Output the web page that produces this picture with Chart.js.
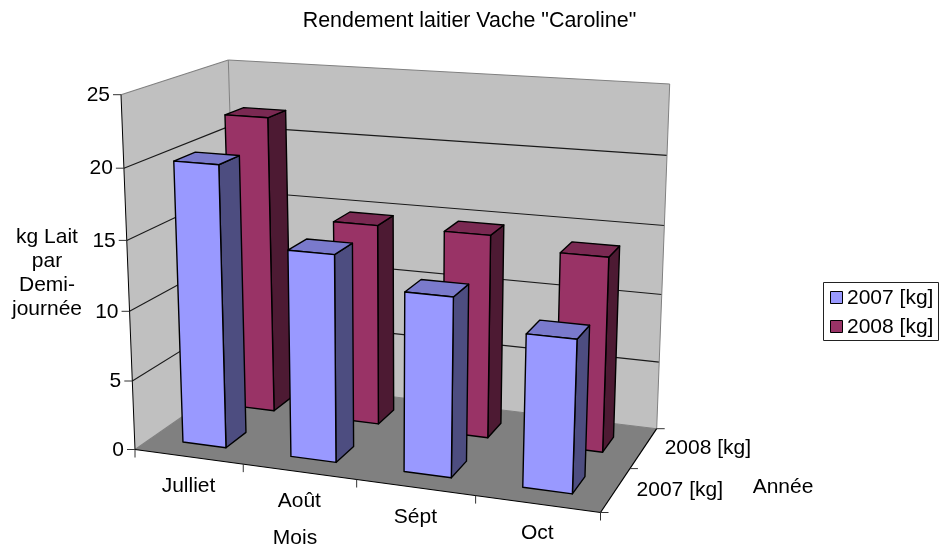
<!DOCTYPE html>
<html><head><meta charset="utf-8">
<style>html,body{margin:0;padding:0;background:#fff}canvas{display:block}</style>
<script src="https://cdn.jsdelivr.net/npm/chart.js@4/dist/chart.umd.min.js"></script>
</head><body><canvas id="c" width="939" height="549"></canvas>
<script>
const categories = ['Julliet','Août','Sépt','Oct'];
const series2007 = [20.2, 14.7, 12.6, 10.6];
const series2008 = [22.0, 14.8, 14.8, 14.0];
const seriesNames = ['2007 [kg]','2008 [kg]'];
const yTicks = [0,5,10,15,20,25];
const chartTitle = 'Rendement laitier Vache "Caroline"';
const yAxisTitle = ['kg Lait','par','Demi-','journée'];
const xAxisTitle = 'Mois';
const zAxisTitle = 'Année';
const FONT = '21px "Liberation Sans", Arial, sans-serif';

/* 3D box corners on screen: F=front, B=back, L/R, floor/top */
const box = {
  FL:[135,449.5], FR:[600.5,512.5], BL:[238,378], BR:[656.7,428.7],
  tFL:[121,94.7], tFR:[614,130], tBL:[228.3,60], tBR:[669.7,84]
};
const depthBands = [[0.15,0.35],[0.645,0.835]];
const faceShades = [
  {side:'#4D4D80', top:'#7A7ACC'},
  {side:'#4D1A33', top:'#7A2952'}
];
function project(s,d,t){
  const S = s/(1.1-0.1*s), D = d*1.1/(1+0.1*d), T = t/(1+0.045*(1-t));
  const mix=(a,b,k)=>[a[0]+(b[0]-a[0])*k,a[1]+(b[1]-a[1])*k];
  const floor = mix(mix(box.FL,box.FR,S),mix(box.BL,box.BR,S),D);
  const top = mix(mix(box.tFL,box.tFR,S),mix(box.tBL,box.tBR,S),D);
  return mix(floor,top,T);
}
function poly(ctx,pts,fill,stroke,lw){
  ctx.beginPath();
  pts.forEach((p,i)=>i?ctx.lineTo(p[0],p[1]):ctx.moveTo(p[0],p[1]));
  ctx.closePath();
  if(fill){ctx.fillStyle=fill;ctx.fill();}
  if(stroke){ctx.strokeStyle=stroke;ctx.lineWidth=lw||1;ctx.lineJoin='round';ctx.stroke();}
}
function seg(ctx,a,b,color,lw){
  ctx.beginPath();ctx.moveTo(a[0],a[1]);ctx.lineTo(b[0],b[1]);
  ctx.strokeStyle=color;ctx.lineWidth=lw||1;ctx.stroke();
}
function label(ctx,txt,x,y,align){
  ctx.font=FONT;ctx.fillStyle='#000';ctx.textAlign=align||'center';ctx.textBaseline='middle';
  ctx.fillText(txt,x,y);
}
const threeD = {
  id:'threeD',
  beforeDatasetsDraw(chart){
    const ctx=chart.ctx, ca=chart.chartArea, xS=chart.scales.x, yS=chart.scales.y;
    const tOf=v=>(ca.bottom-yS.getPixelForValue(v))/ca.height;
    const sOf=px=>(px-ca.left)/ca.width;
    ctx.save();
    // walls and floor
    poly(ctx,[project(0,1,0),project(1,1,0),project(1,1,1),project(0,1,1)],'#C0C0C0');
    poly(ctx,[project(0,0,0),project(0,1,0),project(0,1,1),project(0,0,1)],'#C0C0C0');
    poly(ctx,[project(0,0,0),project(1,0,0),project(1,1,0),project(0,1,0)],'#808080');
    // grid lines
    yS.ticks.forEach(tk=>{
      const t=tOf(tk.value);
      const a=project(0,0,t),b=project(0,1,t),c=project(1,1,t);
      const col=(tk.value===yS.max)?'#808080':(tk.value===0?'#808080':'#1a1a1a');
      seg(ctx,a,b,col,1.1);seg(ctx,b,c,col,1.1);
    });
    seg(ctx,project(0,1,0),project(0,1,1),'#808080',1);
    seg(ctx,project(1,1,0),project(1,1,1),'#808080',1);
    // axes lines
    seg(ctx,project(0,0,0),project(0,0,1),'#000',1);
    seg(ctx,project(0,0,0),project(1,0,0),'#000',1.2);
    seg(ctx,project(1,0,0),project(1,1,0),'#000',1.2);
    // y ticks and labels
    yS.ticks.forEach(tk=>{
      const p=project(0,0,tOf(tk.value));
      seg(ctx,[p[0]-8,p[1]],p,'#333',1);
      label(ctx,String(tk.value),p[0]-11,p[1]+0.5,'right');
    });
    // x ticks and labels
    const n=categories.length;
    for(let i=0;i<=n;i++){
      const p=project(i/n,0,0);
      seg(ctx,p,[p[0],p[1]+8],'#333',1);
    }
    categories.forEach((c,i)=>{
      const p=project(sOf(xS.getPixelForValue(i)),0,0);
      label(ctx,xS.getLabelForValue(i),p[0],p[1]+29.5);
    });
    // depth ticks and labels
    [0,0.5,1].forEach(d=>{const p=project(1,d,0);seg(ctx,p,[p[0]+8,p[1]],'#333',1);});
    chart.data.datasets.forEach((ds,i)=>{
      const dc=(i+0.5)/chart.data.datasets.length;
      const p=project(1,dc,0);
      label(ctx,ds.label,p[0]+21,p[1],'left');
    });
    // bars: back series first, then front
    for(let di=chart.data.datasets.length-1;di>=0;di--){
      const meta=chart.getDatasetMeta(di), ds=chart.data.datasets[di], band=depthBands[di], sh=faceShades[di];
      meta.data.forEach(el=>{
        const s0=sOf(el.x-el.width/2), s1=sOf(el.x+el.width/2), t=(ca.bottom-el.y)/ca.height, d0=band[0], d1=band[1];
        const L='#000', W=1.4;
        poly(ctx,[project(s1,d0,0),project(s1,d1,0),project(s1,d1,t),project(s1,d0,t)],sh.side,L,W);
        poly(ctx,[project(s0,d0,t),project(s1,d0,t),project(s1,d1,t),project(s0,d1,t)],sh.top,L,W);
        poly(ctx,[project(s0,d0,0),project(s1,d0,0),project(s1,d0,t),project(s0,d0,t)],ds.backgroundColor,L,W);
      });
    }
    // axis titles
    yAxisTitle.forEach((l,i)=>label(ctx,l,47,237+i*24));
    label(ctx,xAxisTitle,295,538);
    label(ctx,zAxisTitle,783,487);
    // legend
    ctx.strokeStyle='#222';ctx.lineWidth=1;ctx.strokeRect(823.5,282.5,115,58);
    chart.data.datasets.forEach((ds,i)=>{
      const y=292+i*29;
      ctx.fillStyle=ds.backgroundColor;ctx.fillRect(830.5,y-0.5,12,12);
      ctx.strokeStyle='#000';ctx.strokeRect(830.5,y-0.5,12,12);
      label(ctx,ds.label,847,y+6,'left');
    });
    ctx.restore();
    return false;
  }
};
new Chart(document.getElementById('c'),{
  type:'bar',
  data:{labels:categories,datasets:[
    {label:seriesNames[0],data:series2007,backgroundColor:'#9999FF',grouped:false},
    {label:seriesNames[1],data:series2008,backgroundColor:'#993366',grouped:false}
  ]},
  options:{
    responsive:false,animation:false,
    categoryPercentage:1,barPercentage:0.404,
    layout:{padding:0},
    plugins:{
      legend:{display:false},tooltip:{enabled:false},
      title:{display:true,text:chartTitle,color:'#000',padding:{top:8,bottom:0},
        font:{family:'"Liberation Sans", Arial, sans-serif',size:21.4,weight:'normal',lineHeight:1.2}}
    },
    scales:{
      x:{display:false,grid:{display:false}},
      y:{display:false,min:0,max:25,afterBuildTicks(a){a.ticks=yTicks.map(v=>({value:v}));}}
    }
  },
  plugins:[threeD]
});
</script></body></html>
